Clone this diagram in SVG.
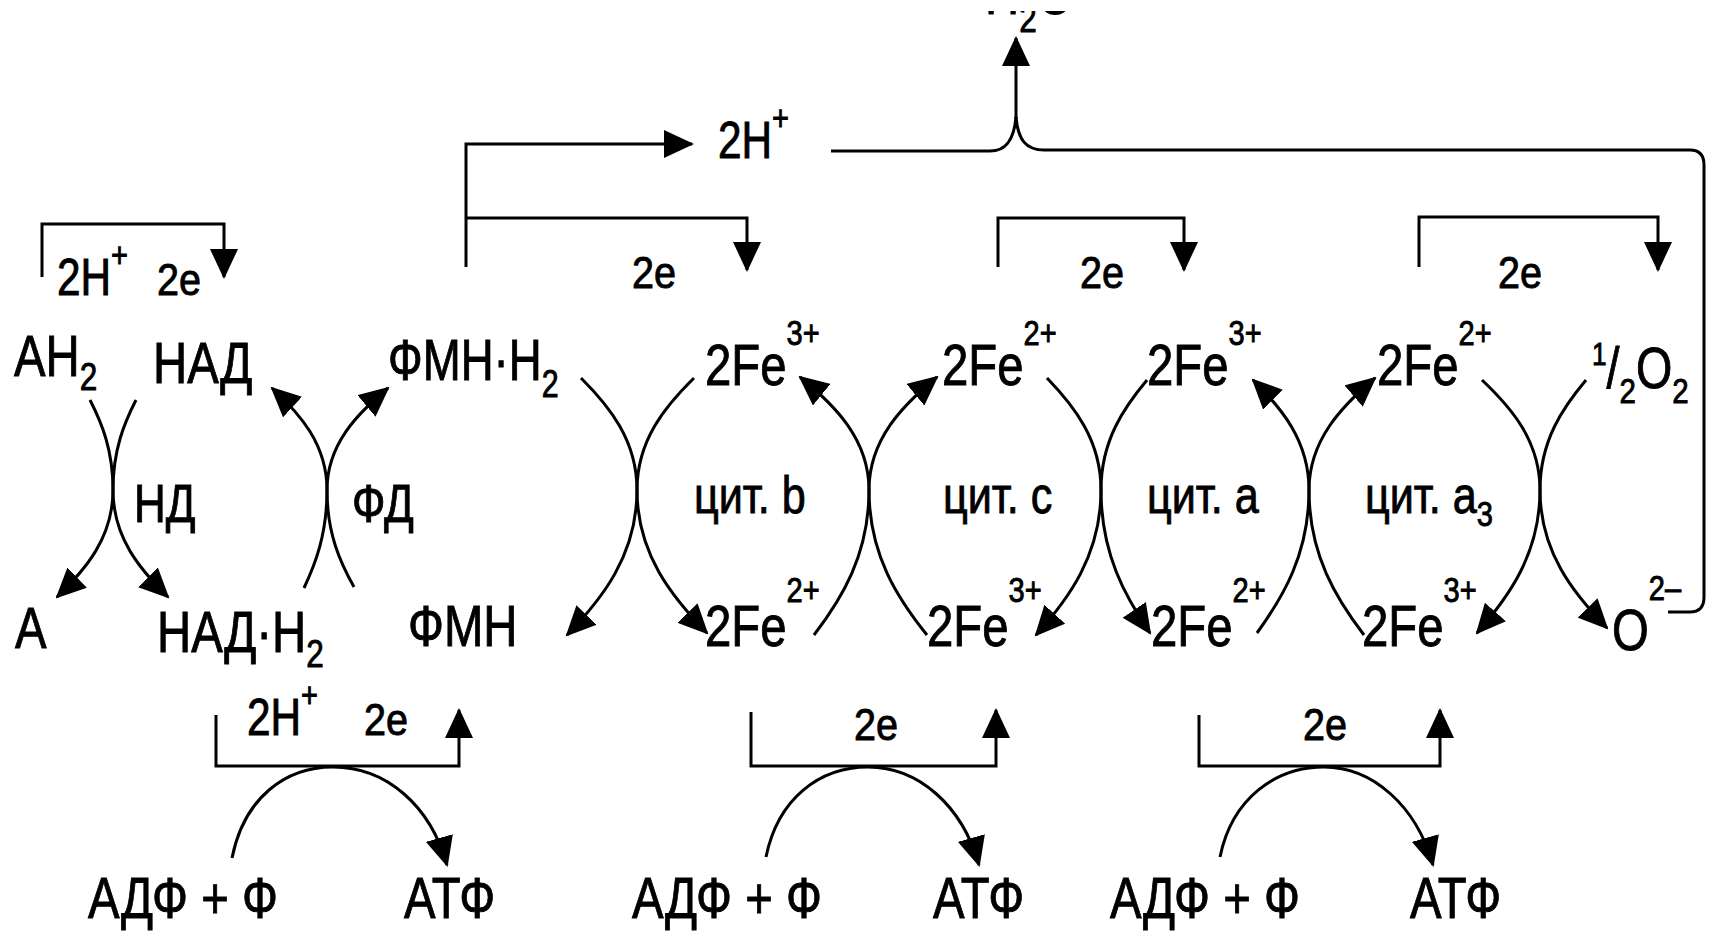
<svg xmlns="http://www.w3.org/2000/svg" width="1715" height="932" viewBox="0 0 1715 932">
<style>
.t{font-family:'Liberation Sans',Arial,sans-serif;font-size:57px;fill:#000;stroke:#000;stroke-width:0.9px}
.sp{font-size:35px}
.sb{font-size:38px}
.h{font-size:51px}
.e{font-size:45px}
.c{font-size:52px}
.d{font-size:53px}
.ln{fill:none;stroke:#000;stroke-width:3}
.ar{marker-end:url(#ah)}
</style>
<defs>
<marker id="ah" viewBox="0 0 30 28" refX="28" refY="14" markerWidth="30" markerHeight="28" markerUnits="userSpaceOnUse" orient="auto"><path d="M0,0 L30,14 L0,28 Z" fill="#000"/></marker>
<clipPath id="topclip"><rect x="0" y="11" width="1715" height="200"/></clipPath>
</defs>
<rect width="1715" height="932" fill="#fff"/>

<g id="connectors">
<path class="ln ar" d="M42,277 V224 H224 V277"/>
<path class="ln ar" d="M466,267 V144 H692"/>
<path class="ln ar" d="M466,218 H747 V270"/>
<path class="ln ar" d="M998,267 V218 H1184 V270"/>
<path class="ln ar" d="M1419,267 V217 H1658 V270"/>
<path class="ln" d="M831,151 H990 C1006,151 1014,140 1016,117"/>
<path class="ln" d="M1016,117 C1018,140 1026,150 1044,150 H1690 Q1704,150 1704,165 V597 Q1704,612 1690,612 H1668"/>
<path class="ln ar" d="M1016,118 V38"/>
<path class="ln ar" d="M90,400 C101.5,422.5 113,449.5 113,490 C113,538 85,570 57,597"/>
<path class="ln ar" d="M136,400 C124.5,422.5 113,449.5 113,490 C113,538 140.5,570 168,597"/>
<path class="ln ar" d="M304,588 C315.5,563.5 327,534 327,490 C327,444 299.5,413.5 272,388"/>
<path class="ln ar" d="M354,587 C340.5,563 327,534 327,490 C327,444 357.5,413.5 388,388"/>
<path class="ln ar" d="M581,378 C609,406 637,440 637,490 C637,555 602,599 567,635"/>
<path class="ln ar" d="M694,378 C665.5,406 637,440 637,490 C637,554 672,597 707,633"/>
<path class="ln ar" d="M814,635 C841.5,599 869,555 869,490 C869,439 834.5,405 800,377"/>
<path class="ln ar" d="M927,635 C898,599 869,555 869,490 C869,439 903,405 937,377"/>
<path class="ln ar" d="M1047,378 C1074,406 1101,440 1101,490 C1101,555 1068.5,599 1036,635"/>
<path class="ln ar" d="M1147,380 C1124,407.5 1101,440.5 1101,490 C1101,554 1125.5,597 1150,633"/>
<path class="ln ar" d="M1257,633 C1283,597 1309,554 1309,490 C1309,440.5 1281,407.5 1253,380"/>
<path class="ln ar" d="M1364,635 C1336.5,599 1309,555 1309,490 C1309,440 1342,406 1375,378"/>
<path class="ln ar" d="M1482,380 C1511,407.5 1540,440.5 1540,490 C1540,554 1508.5,597 1477,633"/>
<path class="ln ar" d="M1586,380 C1563,407.5 1540,440.5 1540,490 C1540,552 1573.5,593.5 1607,628"/>
<path class="ln ar" d="M216,715 V766 H459 V710"/>
<path class="ln ar" d="M751,712 V766 H996 V710"/>
<path class="ln ar" d="M1199,715 V766 H1440 V710"/>
<path class="ln ar" d="M232,858 C244,798 285,767 333,767 C386,767 430,805 447,865"/>
<path class="ln ar" d="M766,857 C778,798 820,767 868,767 C918,767 962,805 979,865"/>
<path class="ln ar" d="M1220,857 C1232,798 1276,767 1324,767 C1372,767 1416,805 1433,865"/>
</g>

<g id="h2o" clip-path="url(#topclip)"><text class="t" transform="translate(985,14) scale(.83,1)">H<tspan class="sb" dy="18">2</tspan><tspan dy="-18">O</tspan></text></g>

<g id="lbl-2h-top"><text class="t h" transform="translate(718,158) scale(.83,1)">2H<tspan class="sp" dy="-28">+</tspan></text></g>
<g id="lbl-2h-tl"><text class="t h" transform="translate(57,295) scale(.83,1)">2H<tspan class="sp" dy="-28">+</tspan></text></g>
<g id="lbl-2e-tl"><text class="t e" transform="translate(157,295) scale(.88,1)">2e</text></g>
<g id="lbl-2e-1"><text class="t e" transform="translate(632,288) scale(.88,1)">2e</text></g>
<g id="lbl-2e-2"><text class="t e" transform="translate(1080,288) scale(.88,1)">2e</text></g>
<g id="lbl-2e-3"><text class="t e" transform="translate(1498,288) scale(.88,1)">2e</text></g>

<g id="ah2"><text class="t" transform="translate(14,376) scale(.83,1)">АН<tspan class="sb" dy="14">2</tspan></text></g>
<g id="nad"><text class="t" transform="translate(153,383) scale(.83,1)">НАД</text></g>
<g id="fmnh2"><text class="t" transform="translate(388,380) scale(.8,1)">ФМН·Н<tspan class="sb" dy="17">2</tspan></text></g>
<g id="a"><text class="t" transform="translate(15,648) scale(.83,1)">А</text></g>
<g id="nadh2"><text class="t" transform="translate(157,652) scale(.83,1)">НАД·Н<tspan class="sb" dy="15">2</tspan></text></g>
<g id="fmn"><text class="t" transform="translate(408,646) scale(.83,1)">ФМН</text></g>
<g id="nd"><text class="t d" transform="translate(134,522) scale(.83,1)">НД</text></g>
<g id="fd"><text class="t d" transform="translate(352,522) scale(.83,1)">ФД</text></g>

<g id="fe-t1"><text class="t" transform="translate(705,385) scale(.83,1)">2Fe<tspan class="sp" dy="-40">3+</tspan></text></g>
<g id="fe-t2"><text class="t" transform="translate(942,385) scale(.83,1)">2Fe<tspan class="sp" dy="-40">2+</tspan></text></g>
<g id="fe-t3"><text class="t" transform="translate(1147,385) scale(.83,1)">2Fe<tspan class="sp" dy="-40">3+</tspan></text></g>
<g id="fe-t4"><text class="t" transform="translate(1377,385) scale(.83,1)">2Fe<tspan class="sp" dy="-40">2+</tspan></text></g>
<g id="o2half"><text class="t" transform="translate(1592,388) scale(.82,1)"><tspan style="font-size:32px" dy="-23">1</tspan><tspan dy="23">/</tspan><tspan style="font-size:36px" dy="15">2</tspan><tspan dy="-15">O</tspan><tspan style="font-size:36px" dy="15">2</tspan></text></g>

<g id="cyt-b"><text class="t c" transform="translate(694,513) scale(.83,1)">цит. b</text></g>
<g id="cyt-c"><text class="t c" transform="translate(943,513) scale(.83,1)">цит. c</text></g>
<g id="cyt-a"><text class="t c" transform="translate(1147,513) scale(.83,1)">цит. a</text></g>
<g id="cyt-a3"><text class="t c" transform="translate(1365,513) scale(.83,1)">цит. a<tspan class="sp" dy="13">3</tspan></text></g>

<g id="fe-b1"><text class="t" transform="translate(705,646) scale(.83,1)">2Fe<tspan class="sp" dy="-44">2+</tspan></text></g>
<g id="fe-b2"><text class="t" transform="translate(927,646) scale(.83,1)">2Fe<tspan class="sp" dy="-44">3+</tspan></text></g>
<g id="fe-b3"><text class="t" transform="translate(1151,646) scale(.83,1)">2Fe<tspan class="sp" dy="-44">2+</tspan></text></g>
<g id="fe-b4"><text class="t" transform="translate(1362,646) scale(.83,1)">2Fe<tspan class="sp" dy="-44">3+</tspan></text></g>
<g id="o2minus"><text class="t" transform="translate(1612,650) scale(.83,1)">O<tspan class="sp" dy="-50">2–</tspan></text></g>

<g id="lbl-2h-b"><text class="t h" transform="translate(247,735) scale(.83,1)">2H<tspan class="sp" dy="-28">+</tspan></text></g>
<g id="lbl-2e-b1"><text class="t e" transform="translate(364,735) scale(.88,1)">2e</text></g>
<g id="lbl-2e-b2"><text class="t e" transform="translate(854,740) scale(.88,1)">2e</text></g>
<g id="lbl-2e-b3"><text class="t e" transform="translate(1303,740) scale(.88,1)">2e</text></g>

<g id="adp1"><text class="t" transform="translate(88,918) scale(.83,1)">АДФ + Ф</text></g>
<g id="atp1"><text class="t" transform="translate(404,918) scale(.83,1)">АТФ</text></g>
<g id="adp2"><text class="t" transform="translate(632,918) scale(.83,1)">АДФ + Ф</text></g>
<g id="atp2"><text class="t" transform="translate(933,918) scale(.83,1)">АТФ</text></g>
<g id="adp3"><text class="t" transform="translate(1110,918) scale(.83,1)">АДФ + Ф</text></g>
<g id="atp3"><text class="t" transform="translate(1410,918) scale(.83,1)">АТФ</text></g>
</svg>
